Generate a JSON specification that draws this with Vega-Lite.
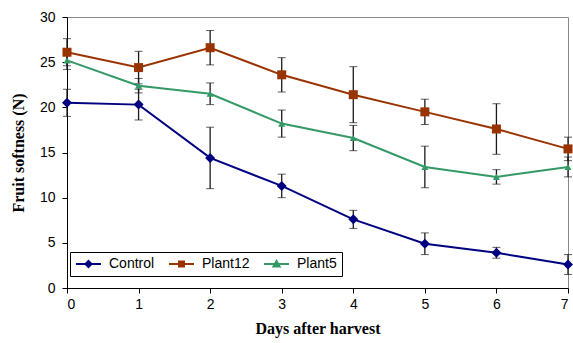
{
  "$schema": "https://vega.github.io/schema/vega-lite/v6.json",
  "width": 501,
  "height": 271,
  "autosize": "none",
  "padding": {"left": 67, "top": 17, "right": 5, "bottom": 55},
  "background": "white",
  "config": {
    "view": {"stroke": "#888888", "strokeWidth": 1},
    "axis": {
      "domainColor": "black", "tickColor": "black", "labelColor": "black", "titleColor": "black",
      "labelFont": "Liberation Sans", "labelFontSize": 14,
      "titleFont": "Liberation Serif", "titleFontSize": 16, "titleFontWeight": "bold",
      "grid": false, "tickSize": 5
    }
  },
  "data": {
    "values": [
      {"day": 0, "series": "Control", "mean": 20.5, "sd": 1.5},
      {"day": 1, "series": "Control", "mean": 20.3, "sd": 1.7},
      {"day": 2, "series": "Control", "mean": 14.4, "sd": 3.4},
      {"day": 3, "series": "Control", "mean": 11.3, "sd": 1.3},
      {"day": 4, "series": "Control", "mean": 7.6, "sd": 1.0},
      {"day": 5, "series": "Control", "mean": 4.9, "sd": 1.2},
      {"day": 6, "series": "Control", "mean": 3.9, "sd": 0.6},
      {"day": 7, "series": "Control", "mean": 2.6, "sd": 1.1},
      {"day": 0, "series": "Plant12", "mean": 26.1, "sd": 1.5},
      {"day": 1, "series": "Plant12", "mean": 24.4, "sd": 1.8},
      {"day": 2, "series": "Plant12", "mean": 26.6, "sd": 1.9},
      {"day": 3, "series": "Plant12", "mean": 23.6, "sd": 1.9},
      {"day": 4, "series": "Plant12", "mean": 21.4, "sd": 3.1},
      {"day": 5, "series": "Plant12", "mean": 19.5, "sd": 1.4},
      {"day": 6, "series": "Plant12", "mean": 17.6, "sd": 2.8},
      {"day": 7, "series": "Plant12", "mean": 15.4, "sd": 1.3},
      {"day": 0, "series": "Plant5", "mean": 25.2, "sd": 1.0},
      {"day": 1, "series": "Plant5", "mean": 22.4, "sd": 0.8},
      {"day": 2, "series": "Plant5", "mean": 21.5, "sd": 1.2},
      {"day": 3, "series": "Plant5", "mean": 18.2, "sd": 1.5},
      {"day": 4, "series": "Plant5", "mean": 16.6, "sd": 1.4},
      {"day": 5, "series": "Plant5", "mean": 13.4, "sd": 2.3},
      {"day": 6, "series": "Plant5", "mean": 12.3, "sd": 0.8},
      {"day": 7, "series": "Plant5", "mean": 13.4, "sd": 1.1}
    ]
  },
  "layer": [
    {
      "mark": {"type": "line", "strokeWidth": 2},
      "encoding": {
        "x": {"field": "day", "type": "quantitative", "scale": {"domain": [0, 7], "nice": false},
              "axis": {"values": [0,1,2,3,4,5,6,7], "format": "d", "title": "Days after harvest", "labelPadding": 4, "titlePadding": 9}},
        "y": {"field": "mean", "type": "quantitative", "scale": {"domain": [0, 30], "nice": false},
              "axis": {"values": [0,5,10,15,20,25,30], "format": "d", "title": "Fruit softness (N)", "labelPadding": 7, "titlePadding": 13}},
        "color": {
          "field": "series", "type": "nominal",
          "scale": {"domain": ["Control", "Plant12", "Plant5"], "range": ["#000080", "#993300", "#339966"]},
          "legend": {
            "orient": "none", "legendX": 3, "legendY": 235,
            "direction": "horizontal", "title": null,
            "strokeColor": "black", "fillColor": "white", "padding": 5,
            "symbolSize": 144, "symbolStrokeWidth": 2, "symbolType": "stroke",
            "labelFont": "Liberation Sans", "labelFontSize": 14, "labelColor": "black",
            "labelOffset": 20, "columnPadding": 10, "cornerRadius": 0,
            "encoding": {
              "symbols": {
                "shape": {"value": {"expr": "datum.value === 'Control' ? 'M-1,0H3.1667M1.083,-0.5L1.583,0L1.083,0.5L0.583,0Z' : (datum.value === 'Plant12' ? 'M-1,0H3.1667M0.66,-0.42H1.5V0.42H0.66Z' : 'M-1,0H3.1667M1.083,-0.5L1.6,0.42H0.566Z')"}},
                "fill": {"value": {"expr": "scale('color', datum.value)"}},
                "stroke": {"value": {"expr": "scale('color', datum.value)"}},
                "strokeWidth": {"value": 2},
                "opacity": {"value": 1}
              }
            }
          }
        }
      }
    },
    {
      "mark": {"type": "errorbar", "ticks": {"size": 8, "color": "#1a1a1a"}, "rule": {"color": "#1a1a1a", "strokeWidth": 1.3}},
      "encoding": {
        "x": {"field": "day", "type": "quantitative"},
        "y": {"field": "mean", "type": "quantitative", "title": "Fruit softness (N)"},
        "yError": {"field": "sd"},
        "detail": {"field": "series"}
      }
    },
    {
      "transform": [{"filter": "datum.series === 'Control'"}],
      "mark": {"type": "point", "filled": true, "opacity": 1, "shape": "diamond", "size": 100},
      "encoding": {
        "x": {"field": "day", "type": "quantitative"},
        "y": {"field": "mean", "type": "quantitative"},
        "color": {"field": "series", "type": "nominal", "legend": null}
      }
    },
    {
      "transform": [{"filter": "datum.series === 'Plant12'"}],
      "mark": {"type": "point", "filled": true, "opacity": 1, "shape": "square", "size": 81},
      "encoding": {
        "x": {"field": "day", "type": "quantitative"},
        "y": {"field": "mean", "type": "quantitative"},
        "color": {"field": "series", "type": "nominal", "legend": null}
      }
    },
    {
      "transform": [{"filter": "datum.series === 'Plant5'"}],
      "mark": {"type": "point", "filled": true, "opacity": 1, "shape": "triangle-up", "size": 50},
      "encoding": {
        "x": {"field": "day", "type": "quantitative"},
        "y": {"field": "mean", "type": "quantitative"},
        "color": {"field": "series", "type": "nominal", "legend": null}
      }
    }
  ]
}
